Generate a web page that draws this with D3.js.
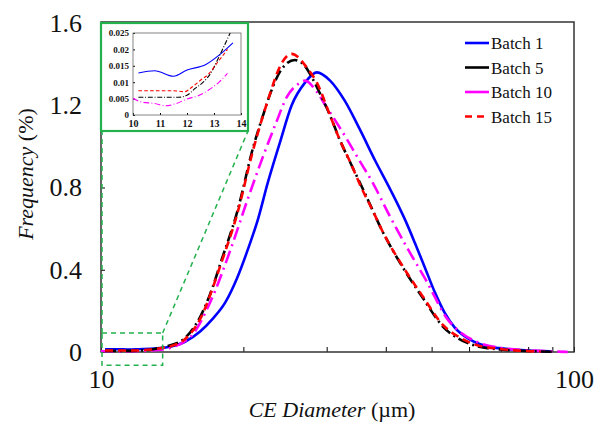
<!DOCTYPE html>
<html>
<head>
<meta charset="utf-8">
<script src="https://cdn.jsdelivr.net/npm/d3@7"></script>
<style>
  body { margin: 0; background: #fff; }
  svg { display: block; }
  svg text { font-family: "Liberation Serif", Tinos, "Times New Roman", Times, "DejaVu Serif", serif; }
</style>
</head>
<body>
<svg id="chart" width="602" height="425"></svg>
<script>
"use strict";

// ---- data: [CE diameter (µm), frequency (%)] ----
const batch1 = [
  [10.2, 0.0128], [10.8, 0.0135], [11.5, 0.0118], [12, 0.0137], [12.7, 0.0154], [13.3, 0.019], [13.7, 0.022],
  [15.05, 0.05], [16.2, 0.10], [17.2, 0.16], [18.3, 0.24], [19.4, 0.36], [20.45, 0.50], [21.5, 0.65],
  [22.5, 0.82], [23.9, 1.02], [25.3, 1.20], [27, 1.31], [28.6, 1.36], [30.5, 1.32], [32.8, 1.22],
  [35.3, 1.08], [38, 0.93], [40.9, 0.79], [44, 0.64], [46.1, 0.53], [48.4, 0.41], [50.8, 0.29],
  [53.3, 0.19], [55.9, 0.12], [60.3, 0.06], [66.4, 0.025], [76.8, 0.01], [88.9, 0.003]
];
const batch5 = [
  [10.2, 0.0054], [11, 0.0054], [11.7, 0.0054], [12, 0.006], [12.3, 0.0081], [12.6, 0.010], [12.9, 0.013],
  [13.2, 0.018], [13.6, 0.025], [14.9, 0.06], [16.2, 0.17], [17, 0.28], [18, 0.45], [19.4, 0.68],
  [21, 1.0], [22, 1.15], [23, 1.28], [24, 1.37], [25.7, 1.42], [27, 1.39], [28, 1.33], [29, 1.26],
  [30.5, 1.15], [32, 1.03], [34, 0.90], [36, 0.78], [39.5, 0.58], [43.5, 0.41], [48, 0.26], [53, 0.12],
  [57, 0.065], [62, 0.03], [70, 0.012], [80, 0.005], [90, 0.001]
];
const batch10 = [
  [10, 0.0051], [10.3, 0.004], [10.8, 0.0035], [11.2, 0.0028], [11.6, 0.0035], [12, 0.0049], [12.4, 0.0058],
  [12.8, 0.0076], [13.2, 0.0101], [13.5, 0.0127], [15.4, 0.07], [17, 0.24], [18.8, 0.50], [20.4, 0.74],
  [22, 0.95], [23.5, 1.12], [24.7, 1.24], [26, 1.30], [27, 1.32], [28.5, 1.27], [30, 1.19], [31, 1.14],
  [33, 1.04], [35, 0.94], [37.6, 0.82], [40.8, 0.66], [44.3, 0.51], [48.9, 0.34], [54, 0.16],
  [58, 0.09], [63, 0.045], [70, 0.02], [80, 0.008], [90, 0.003], [97, 0.0]
];
const batch15 = [
  [10.2, 0.0074], [11.5, 0.0074], [11.9, 0.0071], [12.2, 0.0086], [12.5, 0.0106], [12.8, 0.0125], [13.1, 0.0157],
  [13.5, 0.020], [14.9, 0.055], [16.2, 0.16], [18, 0.44], [19.4, 0.67], [20.9, 0.97], [22.8, 1.26],
  [23.7, 1.37], [25.3, 1.45], [27.3, 1.38], [28.6, 1.31], [30.5, 1.15], [32, 1.03], [33.7, 0.92],
  [35.5, 0.80], [37.5, 0.69], [39.5, 0.58], [43.5, 0.415], [47.9, 0.27], [52.9, 0.13], [57.4, 0.07],
  [62, 0.035], [70, 0.015], [75, 0.008], [85, 0.002]
];

const seriesNames = ["Batch 1", "Batch 5", "Batch 10", "Batch 15"];
const xTicks = [10, 20, 30, 40, 50, 60, 70, 80, 90, 100];
const yTicks = [0, 0.4, 0.8, 1.2, 1.6];
const insetXTicks = [10, 11, 12, 13, 14];
const insetYTicks = [0, 0.005, 0.01, 0.015, 0.02, 0.025];
const zoomBoxX = [10, 13.5];
const zoomBoxY = [-0.065, 0.092];

// ---- styles ----
const styles = [
  { data: batch1,  color: "#0000ff", dash: null,       legendDash: null },
  { data: batch10, color: "#ff00ff", dash: "13,5,2,5", legendDash: null },
  { data: batch5,  color: "#000000", dash: "11,4,2,4", legendDash: null },
  { data: batch15, color: "#ff0000", dash: "8,5",      legendDash: "7,5" }
];
const legendOrder = [0, 2, 1, 3];
const green = "#22b14c";

const svg = d3.select("#chart");
const plot = { left: 101, right: 574, top: 23, bottom: 352 };

const x = d3.scaleLog().domain([10, 100]).range([plot.left, plot.right]);
const y = d3.scaleLinear().domain([0, 1.6]).range([plot.bottom, plot.top]);

// axes
const yAxis = d3.axisLeft(y).tickValues(yTicks).tickSizeInner(-4).tickSizeOuter(0).tickPadding(19)
  .tickFormat(d => d === 0 ? "0" : d3.format(".1f")(d));
const gy = svg.append("g").attr("transform", `translate(${plot.left},0)`).call(yAxis);
gy.attr("font-family", null);
gy.select(".domain").remove();
gy.selectAll("text").attr("font-size", 26).attr("fill", "#111");

const xAxis = d3.axisBottom(x).tickValues(xTicks).tickSizeInner(-5).tickSizeOuter(0).tickPadding(18)
  .tickFormat(d => (d === 10 || d === 100) ? d : "");
const gx = svg.append("g").attr("transform", `translate(0,${plot.bottom})`).call(xAxis);
gx.attr("font-family", null);
gx.select(".domain").remove();
gx.selectAll("text").attr("font-size", 26).attr("fill", "#111");

// frame
svg.append("rect")
  .attr("x", plot.left).attr("y", plot.top - 1)
  .attr("width", plot.right - plot.left).attr("height", plot.bottom - plot.top + 1)
  .attr("fill", "none").attr("stroke", "#333").attr("stroke-width", 1.5);

// axis titles
const xt = svg.append("text").attr("x", 332).attr("y", 417).attr("text-anchor", "middle")
  .attr("font-size", 22).attr("fill", "#111");
xt.append("tspan").attr("font-style", "italic").text("CE Diameter");
xt.append("tspan").text(" (µm)");

const yt = svg.append("text").attr("transform", "translate(33,174) rotate(-90)").attr("text-anchor", "middle")
  .attr("font-size", 22).attr("fill", "#111");
yt.append("tspan").attr("font-style", "italic").text("Frequency");
yt.append("tspan").text(" (%)");

// curves
svg.append("clipPath").attr("id", "mainClip").append("rect")
  .attr("x", plot.left).attr("y", plot.top).attr("width", plot.right - plot.left).attr("height", plot.bottom - plot.top + 2);

const line = d3.line().x(d => x(d[0])).y(d => y(d[1])).curve(d3.curveMonotoneX);
const curves = svg.append("g").attr("clip-path", "url(#mainClip)");
styles.forEach(s => {
  curves.append("path").attr("d", line(s.data))
    .attr("fill", "none").attr("stroke", s.color).attr("stroke-width", 2.6)
    .attr("stroke-dasharray", s.dash);
});

// zoom box + connectors
const zx0 = x(zoomBoxX[0]) + 1, zx1 = x(zoomBoxX[1]);
const zy0 = y(zoomBoxY[1]), zy1 = y(zoomBoxY[0]);
const inset = { left: 133, right: 241, top: 33, bottom: 115, boxL: 101, boxR: 248, boxT: 23, boxB: 131 };
const zoomG = svg.append("g").attr("fill", "none").attr("stroke", green).attr("stroke-width", 1.5)
  .attr("stroke-dasharray", "5,4");
zoomG.append("rect").attr("x", zx0).attr("y", zy0).attr("width", zx1 - zx0).attr("height", zy1 - zy0);
zoomG.append("line").attr("x1", zx0).attr("y1", zy0).attr("x2", zx0).attr("y2", inset.boxB);
zoomG.append("line").attr("x1", zx1).attr("y1", zy0).attr("x2", inset.boxR).attr("y2", inset.boxB);

// inset
svg.append("rect").attr("x", inset.boxL).attr("y", inset.boxT)
  .attr("width", inset.boxR - inset.boxL).attr("height", inset.boxB - inset.boxT)
  .attr("fill", "#fff").attr("stroke", green).attr("stroke-width", 2.2);

const ix = d3.scaleLinear().domain([10, 14]).range([inset.left, inset.right]);
const iy = d3.scaleLinear().domain([0, 0.025]).range([inset.bottom, inset.top]);

const iyAxis = d3.axisLeft(iy).tickValues(insetYTicks).tickSizeInner(-2).tickSizeOuter(0).tickPadding(4)
  .tickFormat(d => d === 0 ? "0" : String(+d.toFixed(3)));
const giy = svg.append("g").attr("transform", `translate(${inset.left},0)`).call(iyAxis);
giy.attr("font-family", null);
giy.select(".domain").remove();
giy.selectAll("text").attr("font-size", 9).attr("font-weight", "bold").attr("fill", "#111");

const ixAxis = d3.axisBottom(ix).tickValues(insetXTicks).tickSizeInner(-2).tickSizeOuter(0).tickPadding(5)
  .tickFormat(d3.format("d"));
const gix = svg.append("g").attr("transform", `translate(0,${inset.bottom})`).call(ixAxis);
gix.attr("font-family", null);
gix.select(".domain").remove();
gix.selectAll("text").attr("font-size", 10).attr("font-weight", "bold").attr("fill", "#111");

svg.append("rect").attr("x", inset.left).attr("y", inset.top)
  .attr("width", inset.right - inset.left).attr("height", inset.bottom - inset.top)
  .attr("fill", "none").attr("stroke", "#666").attr("stroke-width", 0.8);

svg.append("clipPath").attr("id", "insetClip").append("rect")
  .attr("x", inset.left).attr("y", inset.top).attr("width", inset.right - inset.left).attr("height", inset.bottom - inset.top);
const iline = d3.line().x(d => ix(d[0])).y(d => iy(d[1])).curve(d3.curveMonotoneX);
const icurves = svg.append("g").attr("clip-path", "url(#insetClip)");
styles.forEach(s => {
  const pts = s.data.filter(d => d[0] <= 13.7);
  icurves.append("path").attr("d", iline(pts))
    .attr("fill", "none").attr("stroke", s.color).attr("stroke-width", 1.1)
    .attr("stroke-dasharray", s.dash ? s.dash.split(",").map(v => v * 0.45).join(",") : null);
});

// legend
const legend = svg.append("g");
legendOrder.forEach((si, i) => {
  const s = styles[si];
  const ly = 43 + i * 24.5;
  legend.append("line").attr("x1", 465).attr("x2", 489).attr("y1", ly).attr("y2", ly)
    .attr("stroke", s.color).attr("stroke-width", 2.6).attr("stroke-dasharray", s.legendDash);
  legend.append("text").attr("x", 491).attr("y", ly + 6).attr("font-size", 17).attr("fill", "#111")
    .text(seriesNames[i]);
});
</script>
</body>
</html>
